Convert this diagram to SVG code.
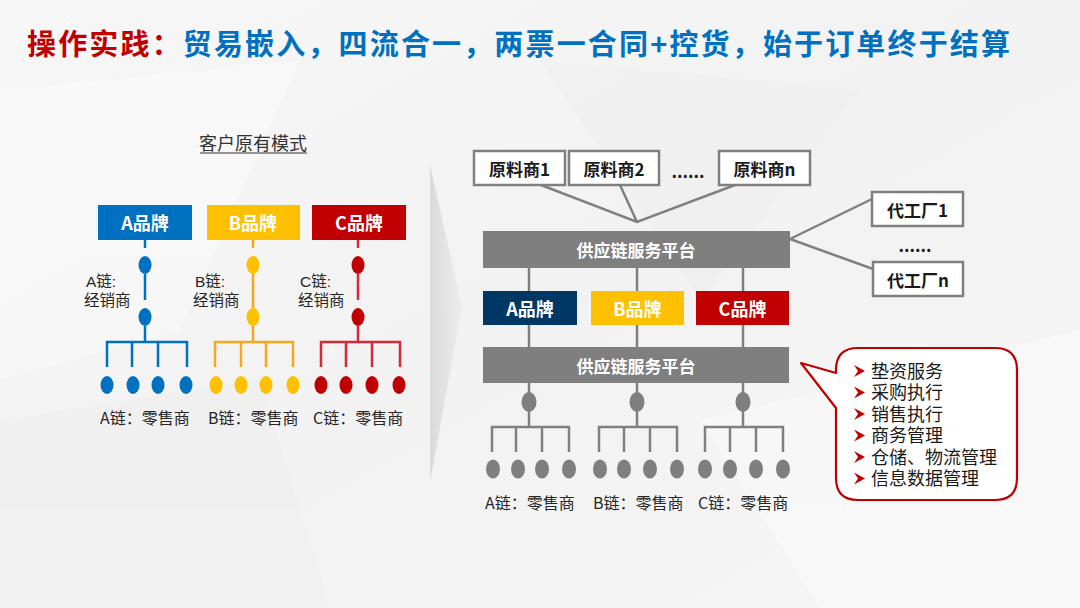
<svg xmlns="http://www.w3.org/2000/svg" width="1080" height="608" viewBox="0 0 1080 608">
<defs>
<linearGradient id="bg" x1="0" y1="0" x2="1" y2="1">
<stop offset="0" stop-color="#f7f7f7"/>
<stop offset="0.5" stop-color="#f2f2f2"/>
<stop offset="1" stop-color="#f6f6f6"/>
</linearGradient>
<linearGradient id="chev" x1="0" y1="0" x2="1" y2="0">
<stop offset="0" stop-color="#d4d4d4"/>
<stop offset="1" stop-color="#ececec"/>
</linearGradient>
<polygon id="bullet" points="0,-6 11,0 0,6 4,0" fill="#C00000"/>
<style>
text{font-family:"Noto Sans CJK SC","Microsoft YaHei",sans-serif;}
.bt{font-size:18px;font-weight:bold;fill:#fff;text-anchor:middle;dominant-baseline:central;}
.wt{font-size:17px;font-weight:bold;fill:#fff;text-anchor:middle;dominant-baseline:central;}
.kt{font-size:17px;font-weight:bold;fill:#1a1a1a;text-anchor:middle;dominant-baseline:central;}
.lb{font-size:16px;fill:#262626;dominant-baseline:central;}
text.dl{font-family:"Liberation Sans","Noto Sans CJK SC",sans-serif;font-size:15.5px;fill:#262626;}
text.ct{font-family:"Liberation Sans","Noto Sans CJK SC",sans-serif;font-size:18px;fill:#1a1a1a;}
.gbox{fill:#fff;stroke:#7f7f7f;stroke-width:2.5;}
.gl{stroke:#808080;stroke-width:2.5;fill:none;}
.bl{stroke:#0070C0;stroke-width:2.5;fill:none;}
.yl{stroke:#F5A81C;stroke-width:2.5;fill:none;}
.rl{stroke:#D42A36;stroke-width:2.5;fill:none;}
</style>
</defs>
<rect x="0" y="0" width="1080" height="608" fill="url(#bg)"/>
<g opacity="0.5">
<polygon points="0,90 300,60 180,330 0,380" fill="#fbfbfb"/>
<polygon points="700,420 1080,330 1080,608 820,608" fill="#fbfbfb"/>
<polygon points="540,60 860,90 700,300" fill="#ededed"/>
<polygon points="0,420 260,380 330,608 0,608" fill="#efefef"/>
</g>
<polygon points="430,165 462,307 430,482" fill="url(#chev)" opacity="0.8"/>

<g id="title">
<text x="27" y="55" font-size="29" font-weight="bold" textLength="983" lengthAdjust="spacing"><tspan fill="#C00000">操作实践：</tspan><tspan fill="#0070C0">贸易嵌入，四流合一，两票一合同+控货，始于订单终于结算</tspan></text>
</g>

<g id="left-title">
<text x="253" y="142" font-size="18" fill="#333" text-anchor="middle" dominant-baseline="central">客户原有模式</text>
<line x1="200" y1="153" x2="307" y2="153" stroke="#333" stroke-width="1.2"/>
</g>

<g id="connectors">
<path class="bl" d="M145,240 V248 M145,274 V300 M145,326 V342 M107,367 V342 H187 V367 M132,342 V367 M158,342 V367"/>
<path class="yl" d="M253,240 V248 M253,258 V308 M253,326 V342 M215,367 V342 H293 V367 M241,342 V367 M266,342 V367"/>
<path class="rl" d="M358,240 V248 M358,274 V300 M358,326 V342 M321,367 V342 H400 V367 M346,342 V367 M372,342 V367"/>
<path class="gl" d="M541,185 L637,222 L735,185 M620,185 L637,222"/>
<path class="gl" d="M790,239 L872,199 M790,239 L873,269"/>
<path class="gl" d="M529,268 V291 M637,268 V291 M743,268 V291"/>
<path class="gl" d="M529,325 V347 M637,325 V347 M743,325 V347"/>
<path class="gl" d="M529,383 V427 M637,383 V427 M743,383 V427"/>
<path class="gl" d="M492,452 V427 H569 V452 M516,427 V452 M542,427 V452"/>
<path class="gl" d="M599,452 V427 H677 V452 M624,427 V452 M650,427 V452"/>
<path class="gl" d="M705,452 V427 H783 V452 M730,427 V452 M756,427 V452"/>
</g>

<g id="left-a-brand"><rect x="98" y="205" width="94" height="35" fill="#0070C0"/><text class="bt" x="145" y="222">A品牌</text></g>
<g id="left-b-brand"><rect x="207" y="205" width="93" height="35" fill="#FFC000"/><text class="bt" x="253" y="222">B品牌</text></g>
<g id="left-c-brand"><rect x="312" y="205" width="94" height="35" fill="#C00000"/><text class="bt" x="359" y="222">C品牌</text></g>

<g id="left-a-dealer" fill="#0070C0">
<ellipse cx="145" cy="265" rx="6.5" ry="9"/><ellipse cx="145" cy="317" rx="6.5" ry="9"/>
<text class="dl" x="86" y="287"><tspan x="86" y="287">A链:</tspan><tspan x="84" y="306">经销商</tspan></text>
</g>
<g id="left-b-dealer" fill="#FFC000">
<ellipse cx="253" cy="265" rx="6.5" ry="9"/><ellipse cx="253" cy="317" rx="6.5" ry="9"/>
<text class="dl" x="195" y="287"><tspan x="195" y="287">B链:</tspan><tspan x="193" y="306">经销商</tspan></text>
</g>
<g id="left-c-dealer" fill="#C00000">
<ellipse cx="358" cy="265" rx="6.5" ry="9"/><ellipse cx="358" cy="317" rx="6.5" ry="9"/>
<text class="dl" x="300" y="287"><tspan x="300" y="287">C链:</tspan><tspan x="298" y="306">经销商</tspan></text>
</g>

<g id="left-a-retail">
<g fill="#0070C0"><ellipse cx="107" cy="385" rx="6.5" ry="9"/><ellipse cx="133" cy="385" rx="6.5" ry="9"/><ellipse cx="158" cy="385" rx="6.5" ry="9"/><ellipse cx="186" cy="385" rx="6.5" ry="9"/></g>
<text class="lb" x="100" y="417">A链：零售商</text>
</g>
<g id="left-b-retail">
<g fill="#FFC000"><ellipse cx="216" cy="385" rx="6.5" ry="9"/><ellipse cx="241" cy="385" rx="6.5" ry="9"/><ellipse cx="266" cy="385" rx="6.5" ry="9"/><ellipse cx="293" cy="385" rx="6.5" ry="9"/></g>
<text class="lb" x="208" y="417">B链：零售商</text>
</g>
<g id="left-c-retail">
<g fill="#C00000"><ellipse cx="321" cy="385" rx="6.5" ry="9"/><ellipse cx="346" cy="385" rx="6.5" ry="9"/><ellipse cx="372" cy="385" rx="6.5" ry="9"/><ellipse cx="399" cy="385" rx="6.5" ry="9"/></g>
<text class="lb" x="313" y="417">C链：零售商</text>
</g>

<g id="supplier-1"><rect class="gbox" x="474" y="151" width="91" height="34"/><text class="kt" x="519.5" y="168">原料商1</text></g>
<g id="supplier-2"><rect class="gbox" x="569" y="151" width="90" height="34"/><text class="kt" x="614" y="168">原料商2</text></g>
<g id="supplier-dots"><text class="kt" x="688" y="170">......</text></g>
<g id="supplier-n"><rect class="gbox" x="719" y="151" width="91" height="34"/><text class="kt" x="764.5" y="168">原料商n</text></g>

<g id="platform-1"><rect x="483" y="231" width="307" height="37" fill="#7F7F7F"/><text class="wt" x="636" y="249">供应链服务平台</text></g>

<g id="factory-1"><rect class="gbox" x="872" y="192" width="91" height="34"/><text class="kt" x="917.5" y="209">代工厂1</text></g>
<g id="factory-dots"><text class="kt" x="915" y="244">......</text></g>
<g id="factory-n"><rect class="gbox" x="873" y="262" width="90" height="34"/><text class="kt" x="918" y="279">代工厂n</text></g>

<g id="right-a-brand"><rect x="483" y="291" width="94" height="34" fill="#003865"/><text class="bt" x="530" y="308">A品牌</text></g>
<g id="right-b-brand"><rect x="591" y="291" width="93" height="34" fill="#FFC000"/><text class="bt" x="637.5" y="308">B品牌</text></g>
<g id="right-c-brand"><rect x="696" y="291" width="93" height="34" fill="#C00000"/><text class="bt" x="742.5" y="308">C品牌</text></g>

<g id="platform-2"><rect x="483" y="347" width="306" height="36" fill="#7F7F7F"/><text class="wt" x="636" y="365">供应链服务平台</text></g>

<g id="right-dealers" fill="#7F7F7F">
<ellipse cx="529" cy="402" rx="7.5" ry="10"/><ellipse cx="637" cy="402" rx="7.5" ry="10"/><ellipse cx="743" cy="402" rx="7.5" ry="10"/>
</g>
<g id="right-a-retail">
<g fill="#7F7F7F"><ellipse cx="493" cy="469" rx="7" ry="9.5"/><ellipse cx="518" cy="469" rx="7" ry="9.5"/><ellipse cx="542" cy="469" rx="7" ry="9.5"/><ellipse cx="569" cy="469" rx="7" ry="9.5"/></g>
<text class="lb" x="485" y="502">A链：零售商</text>
</g>
<g id="right-b-retail">
<g fill="#7F7F7F"><ellipse cx="600" cy="469" rx="7" ry="9.5"/><ellipse cx="624" cy="469" rx="7" ry="9.5"/><ellipse cx="650" cy="469" rx="7" ry="9.5"/><ellipse cx="677" cy="469" rx="7" ry="9.5"/></g>
<text class="lb" x="593" y="502">B链：零售商</text>
</g>
<g id="right-c-retail">
<g fill="#7F7F7F"><ellipse cx="705" cy="469" rx="7" ry="9.5"/><ellipse cx="730" cy="469" rx="7" ry="9.5"/><ellipse cx="756" cy="469" rx="7" ry="9.5"/><ellipse cx="783" cy="469" rx="7" ry="9.5"/></g>
<text class="lb" x="698" y="502">C链：零售商</text>
</g>

<g id="callout">
<path d="M858,348 H995 Q1017,348 1017,370 V478 Q1017,500 995,500 H858 Q836,500 836,478 V408 L801,363 L836,373 V370 Q836,348 858,348 Z" fill="#fff" stroke="#C00000" stroke-width="2.2" stroke-linejoin="round"/>
<use href="#bullet" x="854" y="371"/>
<use href="#bullet" x="854" y="392.5"/>
<use href="#bullet" x="854" y="414"/>
<use href="#bullet" x="854" y="435.5"/>
<use href="#bullet" x="854" y="457"/>
<use href="#bullet" x="854" y="478.5"/>
<text class="ct" x="871" y="377.5"><tspan x="871" y="377.5">垫资服务</tspan><tspan x="871" y="399">采购执行</tspan><tspan x="871" y="420.5">销售执行</tspan><tspan x="871" y="442">商务管理</tspan><tspan x="871" y="463.5">仓储、物流管理</tspan><tspan x="871" y="485">信息数据管理</tspan></text>
</g>
</svg>
